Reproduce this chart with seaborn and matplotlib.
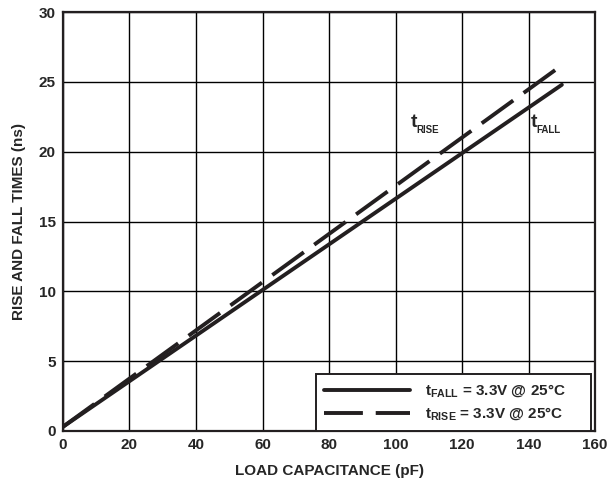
import matplotlib
matplotlib.use('Agg')
import matplotlib.pyplot as plt
from matplotlib.lines import Line2D
import seaborn as sns
import pandas as pd

sns.set_style('white')
plt.rcParams['font.family'] = ['Liberation Sans', 'DejaVu Sans']
plt.rcParams['font.weight'] = 'bold'
plt.rcParams['mathtext.fontset'] = 'custom'
plt.rcParams['mathtext.rm'] = 'Liberation Sans:bold'
plt.rcParams['mathtext.bf'] = 'Liberation Sans:bold'

cap = [0, 150]
t_fall = [0.3, 24.8]
t_rise = [0.3, 26.2]

df = pd.concat([
    pd.DataFrame({'cap': cap, 't': t_fall, 'series': 'fall'}),
    pd.DataFrame({'cap': cap, 't': t_rise, 'series': 'rise'}),
])

ink = '#231f20'
fig = plt.figure(figsize=(6.11, 4.87), dpi=100)
ax = fig.add_axes([0.103, 0.115, 0.871, 0.86])

sns.lineplot(data=df, x='cap', y='t', hue='series', style='series',
             palette={'fall': ink, 'rise': ink},
             dashes={'fall': '', 'rise': (10, 3.3)}, lw=2.8, ax=ax, legend=False)

ax.set_xlim(0, 160)
ax.set_ylim(0, 30)
ax.set_xticks(range(0, 161, 20))
ax.set_yticks(range(0, 31, 5))
ax.grid(True, color='black', lw=1.0)
for s in ax.spines.values():
    s.set_color(ink)
    s.set_linewidth(1.6)
ax.tick_params(length=0, labelsize=11, pad=5)
for lbl in ax.get_xticklabels() + ax.get_yticklabels():
    lbl.set_fontweight('bold')
ax.set_xlabel('LOAD CAPACITANCE (pF)', fontsize=11, fontweight='bold', labelpad=9)
ax.set_ylabel('RISE AND FALL TIMES (ns)', fontsize=11, fontweight='bold', labelpad=9)

# curve labels: large t with small lowered subscript
for x0, sub in [(104.5, 'RISE'), (140.5, 'FALL')]:
    ax.text(x0, 21.8, 't', fontsize=14, fontweight='bold', ha='left', va='baseline')
    ax.text(x0 + 1.9, 21.35, sub, fontsize=7, fontweight='bold', ha='left', va='baseline')

handles = [Line2D([], [], color=ink, lw=2.8),
           Line2D([], [], color=ink, lw=2.8, dashes=(10, 3.3))]
labels = [r'$\mathrm{t}_{\mathrm{FALL}}$ = 3.3V @ 25°C     ',
          r'$\mathrm{t}_{\mathrm{RISE}}$ = 3.3V @ 25°C     ']
leg = ax.legend(handles, labels, loc='lower right', bbox_to_anchor=(0.993, 0.0),
                fancybox=False, framealpha=1, edgecolor=ink,
                handlelength=5.6, handletextpad=1.0, fontsize=11,
                borderaxespad=0, borderpad=0.55, labelspacing=0.35)
leg.get_frame().set_linewidth(1.4)
for t in leg.get_texts():
    t.set_fontweight('bold')

fig.savefig('out.png', dpi=100)
